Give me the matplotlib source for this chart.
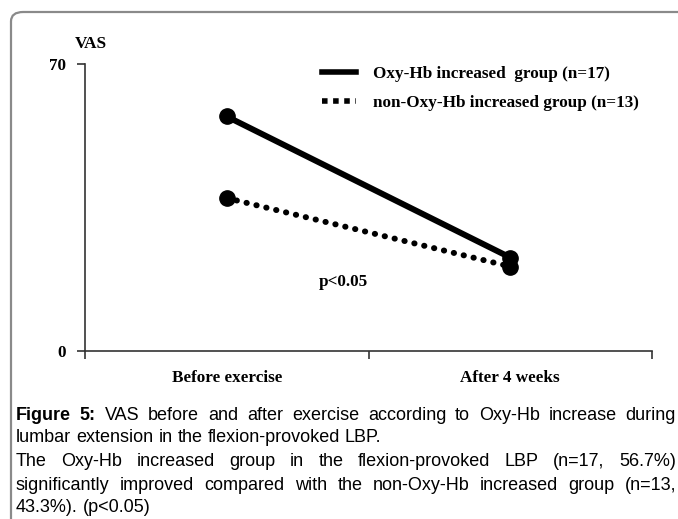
import matplotlib
matplotlib.use("Agg")
import matplotlib.pyplot as plt
from matplotlib.lines import Line2D
from matplotlib.patches import FancyBboxPatch

categories = ["Before exercise", "After 4 weeks"]
oxy_values = [57.2, 22.8]
non_oxy_values = [37.3, 20.6]
oxy_label = "Oxy-Hb increased  group (n=17)"
non_oxy_label = "non-Oxy-Hb increased group (n=13)"
y_ticks = [0, 70]
y_label = "VAS"
p_text = "p<0.05"

caption_lines = [
    (["Figure", "5:", "VAS", "before", "and", "after", "exercise", "according", "to", "Oxy-Hb", "increase", "during"], True, 2),
    (["lumbar", "extension", "in", "the", "flexion-provoked", "LBP."], False, 0),
    (["The", "Oxy-Hb", "increased", "group", "in", "the", "flexion-provoked", "LBP", "(n=17,", "56.7%)"], True, 0),
    (["significantly", "improved", "compared", "with", "the", "non-Oxy-Hb", "increased", "group", "(n=13,"], True, 0),
    (["43.3%).", "(p<0.05)"], False, 0),
]

W, H = 678, 519
fig = plt.figure(figsize=(W / 100, H / 100), dpi=100)
fig.patch.set_facecolor("white")

# rounded border
border = FancyBboxPatch((11 / W, -0.2), 1.2, (H - 12) / H + 0.2,
                        boxstyle="round,pad=0,rounding_size=0.018",
                        transform=fig.transFigure, fill=False,
                        edgecolor="#8a8a8a", linewidth=1.6, clip_on=False)
fig.add_artist(border)

FS = 12.3
ax = fig.add_axes([85 / W, 1 - 351 / H, (652 - 85) / W, (351 - 64) / H])
serif = {"family": "Liberation Serif", "weight": "bold"}
x = [0, 1]
ax.plot(x, oxy_values, color="black", lw=4.3, marker="o", markersize=11,
        solid_capstyle="round", zorder=3)
ax.plot(x, non_oxy_values, color="black", lw=4.3, marker="o", markersize=11,
        linestyle=(0, (0.05, 1.65)), dash_capstyle="round", zorder=3)

ax.set_xlim(-0.5, 1.5)
ax.set_ylim(0, 70)
ax.set_xticks([-0.5, 0.5, 1.5])
ax.set_xticklabels([])
ax.set_xticks(x, minor=True)
ax.set_xticklabels(categories, minor=True, fontdict={**serif, "size": FS})
ax.tick_params(axis="x", which="minor", length=0, pad=14)
ax.tick_params(axis="x", which="major", direction="out", length=6, width=1.2, color="#333333")
ax.set_yticks(y_ticks)
ax.set_yticklabels([str(v) for v in y_ticks], fontdict={**serif, "size": FS})
ax.tick_params(axis="y", direction="out", length=6, width=1.2, color="#333333", pad=8)
for s in ["top", "right"]:
    ax.spines[s].set_visible(False)
for s in ["left", "bottom"]:
    ax.spines[s].set_color("#333333")
    ax.spines[s].set_linewidth(1.2)

ax.text(-0.48, 75.0, y_label, ha="center", va="center", **serif, size=FS)
ax.text(0.41, 16.9, p_text, ha="center", va="center", **serif, size=FS)

handles = [Line2D([], [], color="black", lw=4.0),
           Line2D([], [], color="black", lw=4.0, linestyle=(0, (1, 1)), dash_capstyle="butt")]
leg = ax.legend(handles, [oxy_label, non_oxy_label], loc="upper left",
                bbox_to_anchor=((322 - 85) / 567, (351 - 66) / 287),
                frameon=False, prop={"family": "Liberation Serif", "weight": "bold", "size": FS},
                handlelength=2.0, handletextpad=1.0, labelspacing=0.75, borderpad=0, borderaxespad=0)

# caption with justification
fig.canvas.draw()
renderer = fig.canvas.get_renderer()
x0, x1 = 16, 676
line_y = [415, 438, 462, 485, 508]
fs = 13
probe1 = fig.text(0, 0, "a a", family="Liberation Sans", size=fs)
probe2 = fig.text(0, 0, "aa", family="Liberation Sans", size=fs)
sp_w = probe1.get_window_extent(renderer).width - probe2.get_window_extent(renderer).width
probe1.remove()
probe2.remove()
for (words, justify, nbold), yc in zip(caption_lines, line_y):
    texts = []
    for i, w in enumerate(words):
        t = fig.text(0, 1 - yc / H, w, family="Liberation Sans", size=fs,
                     weight="bold" if i < nbold else "normal", va="center", ha="left")
        texts.append(t)
    widths = [t.get_window_extent(renderer).width for t in texts]
    if justify and len(words) > 1:
        gap = (x1 - x0 - sum(widths)) / (len(words) - 1)
    else:
        gap = sp_w
    cx = x0
    for t, w in zip(texts, widths):
        t.set_x(cx / W)
        cx += w + gap

fig.savefig("out.png", dpi=100)
